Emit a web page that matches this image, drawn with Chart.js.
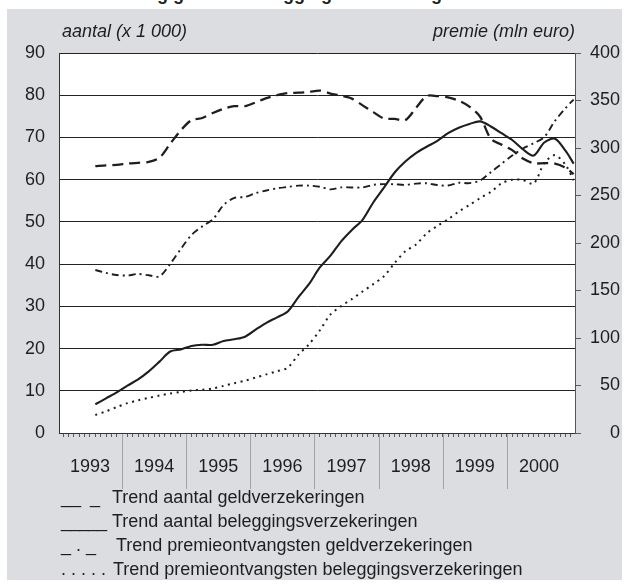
<!DOCTYPE html>
<html>
<head>
<meta charset="utf-8">
<script src="https://cdn.jsdelivr.net/npm/chart.js@4"></script>
<style>
  html, body { margin: 0; padding: 0; background: #ffffff; width: 629px; height: 585px; overflow: hidden; }
  body { position: relative; font-family: "Liberation Sans", Arial, sans-serif; color: #1e1e1e; }
  #panel { position: absolute; left: 7px; top: 9px; width: 615px; height: 571px; background: #dcdde1; }
  #chart { position: absolute; left: 0; top: 0; }
  .title { position: absolute; left: 56px; top: -16px; font-weight: bold; font-size: 18px; line-height: 20px; white-space: nowrap; }
  .axt { position: absolute; top: 20px; font-style: italic; font-size: 18px; line-height: 22px; white-space: nowrap; }
  .leg { position: absolute; left: 61px; font-size: 18px; line-height: 22px; white-space: pre; }
  .sym { display: inline-block; }
</style>
</head>
<body>
<div class="title">Ontwikkeling geld- en beleggingsverzekeringen</div>
<div id="panel"></div>
<canvas id="chart" width="629" height="585"></canvas>
<div class="axt" style="left:62px;">aantal (x 1 000)</div>
<div class="axt" style="right:54px;">premie (mln euro)</div>
<div class="leg" style="top:486px;"><span class="sym" style="width:51px;">__&#8194;_</span>Trend aantal geldverzekeringen</div>
<div class="leg" style="top:510px;"><span class="sym" style="width:51px;letter-spacing:-1px;">_____</span>Trend aantal beleggingsverzekeringen</div>
<div class="leg" style="top:534px;"><span class="sym" style="width:55px;">_ . _</span>Trend premieontvangsten geldverzekeringen</div>
<div class="leg" style="top:558px;"><span class="sym" style="width:52px;">. . . . .</span>Trend premieontvangsten beleggingsverzekeringen</div>
<script>
// x positions: months since January 1993
const months = [7, 9, 11, 13, 15, 17, 19, 21, 23, 25, 27, 29, 31, 33, 35, 37, 39, 41, 43, 45, 47, 49, 51, 53, 55, 57, 59, 61, 63, 65, 67, 69, 71, 73, 75, 77, 79, 81, 83, 85, 87, 89, 91, 93, 95, 96.5];
const yearLabels = ['1993', '1994', '1995', '1996', '1997', '1998', '1999', '2000'];
const leftTicks = [0, 10, 20, 30, 40, 50, 60, 70, 80, 90];
const rightTicks = [0, 50, 100, 150, 200, 250, 300, 350, 400];

// aantal (x 1 000), left axis
const aantalGeld = [63.2, 63.4, 63.5, 63.8, 64.0, 64.2, 65.2, 68.5, 71.7, 74.1, 74.6, 75.8, 76.8, 77.4, 77.4, 78.3, 79.3, 80.0, 80.5, 80.6, 80.8, 81.1, 80.4, 79.9, 79.2, 77.6, 76.0, 74.5, 74.4, 74.1, 77.0, 79.8, 79.8, 79.5, 78.7, 77.3, 74.9, 69.7, 68.3, 67.0, 65.0, 63.9, 63.9, 63.8, 62.8, 61.3];
const aantalBeleg = [6.8, 8.2, 9.6, 11.2, 12.7, 14.6, 16.9, 19.3, 19.8, 20.6, 20.9, 20.9, 21.8, 22.2, 22.8, 24.5, 26.1, 27.4, 28.8, 32.2, 35.3, 39.2, 42.0, 45.4, 48.1, 50.5, 54.6, 58.1, 61.7, 64.3, 66.3, 67.8, 69.2, 71.0, 72.3, 73.2, 73.8, 72.6, 71.0, 69.4, 67.2, 65.7, 68.8, 69.7, 66.8, 63.8];
// premie (mln euro), right axis
const premieGeld = [171.6, 168.5, 166.3, 165.8, 167.4, 166.0, 164.8, 178.0, 193.8, 208.5, 217.5, 225.0, 240.0, 247.5, 248.5, 252.5, 255.3, 257.6, 259.0, 260.4, 260.4, 259.2, 256.4, 258.5, 258.5, 258.5, 261.2, 262.0, 261.8, 261.2, 262.5, 262.9, 261.0, 260.5, 263.4, 263.0, 265.8, 274.5, 283.3, 292.0, 299.5, 305.0, 311.5, 328.5, 342.0, 351.0];
const premieBeleg = [19.0, 22.8, 27.3, 31.4, 34.4, 37.0, 39.4, 41.6, 43.2, 44.8, 45.5, 46.8, 49.6, 52.4, 55.0, 58.4, 61.7, 65.0, 68.8, 82.5, 93.5, 108.0, 124.8, 133.6, 141.0, 148.9, 156.7, 165.0, 178.9, 191.2, 198.4, 210.2, 218.0, 225.0, 233.1, 240.0, 247.2, 253.8, 262.8, 266.5, 266.3, 262.5, 284.0, 292.5, 282.0, 266.0];

const seriesNames = ['Trend aantal geldverzekeringen', 'Trend aantal beleggingsverzekeringen', 'Trend premieontvangsten geldverzekeringen', 'Trend premieontvangsten beleggingsverzekeringen'];

const toPoints = vals => months.map((m, i) => ({ x: m, y: vals[i] }));
const FONT = { family: '"Liberation Sans", Arial, sans-serif', size: 18 };
const INK = '#1e1e1e';

const backdrop = {
  id: 'backdrop',
  beforeDraw(chart) {
    const a = chart.chartArea, ctx = chart.ctx;
    ctx.save();
    ctx.fillStyle = '#ffffff';
    ctx.fillRect(a.left, a.top, a.right - a.left, a.bottom - a.top);
    ctx.restore();
  },
  afterDraw(chart) {
    const a = chart.chartArea, ctx = chart.ctx, xs = chart.scales.x;
    ctx.save();
    ctx.strokeStyle = '#a3a3a6';
    ctx.lineWidth = 1;
    for (let k = 1; k < yearLabels.length; k++) {
      const px = Math.round(xs.getPixelForValue(12 * k)) + 0.5;
      ctx.beginPath();
      ctx.moveTo(px, a.bottom + 1);
      ctx.lineTo(px, a.bottom + 56);
      ctx.stroke();
    }
    ctx.restore();
  }
};

new Chart(document.getElementById('chart'), {
  type: 'line',
  data: {
    datasets: [
      { label: seriesNames[0], data: toPoints(aantalGeld), yAxisID: 'y', borderColor: INK, borderWidth: 2.3, borderDash: [11, 6] },
      { label: seriesNames[1], data: toPoints(aantalBeleg), yAxisID: 'y', borderColor: INK, borderWidth: 2.1 },
      { label: seriesNames[2], data: toPoints(premieGeld), yAxisID: 'y2', borderColor: INK, borderWidth: 1.9, borderDash: [7, 4, 2, 4] },
      { label: seriesNames[3], data: toPoints(premieBeleg), yAxisID: 'y2', borderColor: INK, borderWidth: 2, borderDash: [2, 4.5] }
    ]
  },
  options: {
    responsive: false,
    animation: false,
    events: [],
    elements: { point: { radius: 0 }, line: { tension: 0.3, fill: false } },
    layout: { padding: { left: 0, right: 9, top: 53, bottom: 92 } },
    plugins: { legend: { display: false }, tooltip: { enabled: false } },
    scales: {
      x: {
        type: 'linear',
        position: 'bottom',
        min: 0.2,
        max: 96.75,
        afterBuildTicks(scale) {
          const t = [];
          for (let m = 1; m <= 96; m++) t.push({ value: m });
          scale.ticks = t;
        },
        afterFit(scale) { scale.height = 60; },
        ticks: {
          autoSkip: false,
          maxRotation: 0,
          padding: 19,
          color: INK,
          font: FONT,
          callback(value) {
            return (value % 12 === 6) ? yearLabels[(value - 6) / 12] : '';
          }
        },
        grid: { drawOnChartArea: false, drawTicks: true, tickLength: 4, tickColor: '#5a5a5a', tickWidth: 1 },
        border: { display: true, color: '#333333', width: 1 }
      },
      y: {
        position: 'left',
        min: 0,
        max: 90,
        afterBuildTicks(scale) { scale.ticks = leftTicks.map(v => ({ value: v })); },
        afterFit(scale) { scale.width = 59; },
        ticks: { color: INK, font: FONT, padding: 14 },
        grid: { color: '#222222', lineWidth: 1, drawTicks: false },
        border: { display: true, color: '#333333', width: 1 }
      },
      y2: {
        position: 'right',
        min: 0,
        max: 400,
        afterBuildTicks(scale) { scale.ticks = rightTicks.map(v => ({ value: v })); },
        afterFit(scale) { scale.width = 45; },
        ticks: { color: INK, font: FONT, padding: 1, crossAlign: 'far' },
        grid: { drawOnChartArea: false, drawTicks: true, tickLength: 6, tickColor: '#5a5a5a' },
        border: { display: true, color: '#555555', width: 1 }
      }
    }
  },
  plugins: [backdrop]
});
</script>
</body>
</html>
